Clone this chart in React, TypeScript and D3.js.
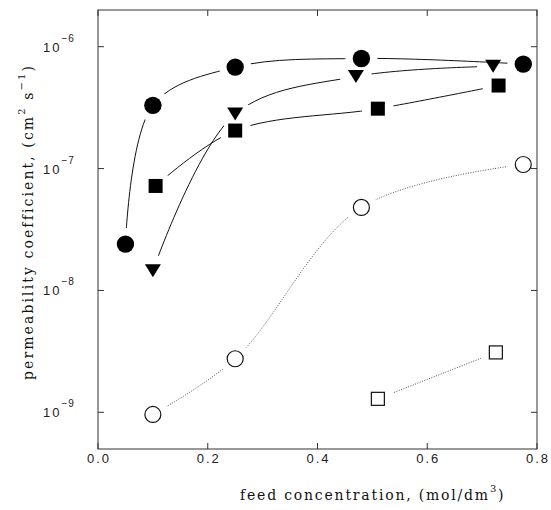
import React from "react";
import * as d3 from "d3";

// values (x: mol/dm3, y: cm2 s-1)
const filledCircleX = [0.05, 0.1, 0.25, 0.48, 0.775];
const filledCircleY = [2.4e-8, 3.3e-7, 6.8e-7, 8.0e-7, 7.2e-7];
const triangleX = [0.1, 0.25, 0.47, 0.72];
const triangleY = [1.45e-8, 2.8e-7, 5.7e-7, 6.9e-7];
const filledSquareX = [0.105, 0.25, 0.51, 0.73];
const filledSquareY = [7.2e-8, 2.05e-7, 3.1e-7, 4.8e-7];
const openCircleX = [0.1, 0.25, 0.48, 0.775];
const openCircleY = [9.6e-10, 2.75e-9, 4.8e-8, 1.08e-7];
const openSquareX = [0.51, 0.725];
const openSquareY = [1.29e-9, 3.1e-9];

const xTicks = [0, 0.2, 0.4, 0.6, 0.8];
const yTicks = [1e-9, 1e-8, 1e-7, 1e-6];
const yTickExp = ["-9", "-8", "-7", "-6"];

const W = 551;
const H = 510;
const left = 98, right = 537, top = 10, bottom = 449;

const x = d3.scaleLinear().domain([0, 0.8]).range([left, right]);
const y = d3.scaleLog().domain([5e-10, 2e-6]).range([bottom, top]);

const line = d3
  .line<[number, number]>()
  .x((d) => x(d[0]))
  .y((d) => y(d[1]))
  .curve(d3.curveCatmullRom.alpha(0.5));

const series = [
  { id: "fc", xs: filledCircleX, ys: filledCircleY, shape: "circle", fill: "#000", dotted: false },
  { id: "tr", xs: triangleX, ys: triangleY, shape: "triangle", fill: "#000", dotted: false },
  { id: "fs", xs: filledSquareX, ys: filledSquareY, shape: "square", fill: "#000", dotted: false },
  { id: "oc", xs: openCircleX, ys: openCircleY, shape: "circle", fill: "#fff", dotted: true },
  { id: "os", xs: openSquareX, ys: openSquareY, shape: "square", fill: "#fff", dotted: true },
];

const gap = 16;

function Marker({ shape, cx, cy, fill }: { shape: string; cx: number; cy: number; fill: string }) {
  const open = fill === "#fff";
  if (shape === "circle") {
    const r = open ? 8 : 8.7;
    return <circle cx={cx} cy={cy} r={r} fill={fill} stroke="#111" strokeWidth={open ? 1.2 : 0} />;
  }
  if (shape === "square") {
    const s = open ? 13 : 14;
    return (
      <rect x={cx - s / 2} y={cy - s / 2} width={s} height={s} fill={fill} stroke="#111" strokeWidth={open ? 1.2 : 0} />
    );
  }
  const w = 16, h = 13;
  return <path d={`M${cx - w / 2},${cy - h / 2}L${cx + w / 2},${cy - h / 2}L${cx},${cy + h / 2}Z`} fill={fill} />;
}

export default function App() {
  const serif = "'DejaVu Serif', serif";
  const sans = "'Liberation Sans', Arial, sans-serif";
  return (
    <svg width={W} height={H} style={{ position: "absolute", left: 0, top: 0, background: "#fff" }}>
      <defs>
        {series.map((s) => (
          <mask key={s.id} id={`m-${s.id}`} maskUnits="userSpaceOnUse" x={0} y={0} width={W} height={H}>
            <rect x={0} y={0} width={W} height={H} fill="white" />
            {s.xs.map((v, i) => (
              <circle key={i} cx={x(v)} cy={y(s.ys[i])} r={gap} fill="black" />
            ))}
          </mask>
        ))}
      </defs>

      {/* frame */}
      <rect x={left} y={top} width={right - left} height={bottom - top} fill="none" stroke="#333" strokeWidth={1} />

      {/* ticks, inward on all sides */}
      {xTicks.map((t) => (
        <g key={`xt${t}`}>
          <line x1={x(t)} x2={x(t)} y1={bottom} y2={bottom - 6} stroke="#333" />
          <line x1={x(t)} x2={x(t)} y1={top} y2={top + 6} stroke="#333" />
          <text x={x(t) + 1} y={463} textAnchor="middle" fontFamily={sans} fontSize={13} letterSpacing={2} fill="#222">
            {t.toFixed(1)}
          </text>
        </g>
      ))}
      {yTicks.map((t, i) => (
        <g key={`yt${t}`}>
          <line x1={left} x2={left + 6} y1={y(t)} y2={y(t)} stroke="#333" />
          <line x1={right} x2={right - 6} y1={y(t)} y2={y(t)} stroke="#333" />
          <text x={43} y={y(t) + 5} fontFamily={sans} fontSize={13} letterSpacing={2} fill="#222">
            10
            <tspan dy={-10} fontSize={10} letterSpacing={1}>
              {yTickExp[i].replace("-", "\u2212")}
            </tspan>
          </text>
        </g>
      ))}

      {/* curves */}
      {series.map((s) => (
        <path
          key={`l${s.id}`}
          d={line(s.xs.map((v, i) => [v, s.ys[i]] as [number, number])) || ""}
          fill="none"
          stroke={s.dotted ? "#555" : "#111"}
          strokeWidth={1}
          strokeDasharray={s.dotted ? "1,1.5" : undefined}
          mask={`url(#m-${s.id})`}
        />
      ))}

      {/* markers */}
      {series.map((s) =>
        s.xs.map((v, i) => <Marker key={`${s.id}${i}`} shape={s.shape} cx={x(v)} cy={y(s.ys[i])} fill={s.fill} />)
      )}

      {/* axis titles */}
      <text x={240} y={500} fontFamily={serif} fontSize={14} letterSpacing={1.8} fill="#111">
        feed concentration, (mol/dm
        <tspan dy={-8} fontSize={10}>3</tspan>
        <tspan dy={8}>)</tspan>
      </text>
      <text
        transform={`translate(33,222) rotate(-90)`}
        textAnchor="middle"
        fontFamily={serif}
        fontSize={14}
        letterSpacing={2.1}
        fill="#111"
      >
        permeability coefficient, (cm
        <tspan dy={-8} fontSize={10}>2</tspan>
        <tspan dy={8}> s</tspan>
        <tspan dy={-8} fontSize={10}>{"\u22121"}</tspan>
        <tspan dy={8}>)</tspan>
      </text>
    </svg>
  );
}
